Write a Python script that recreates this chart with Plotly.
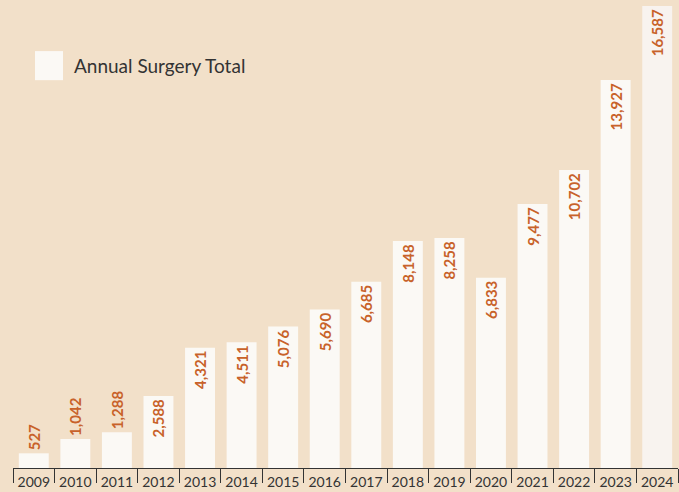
import plotly.graph_objects as go

years = ["2009", "2010", "2011", "2012", "2013", "2014", "2015", "2016",
         "2017", "2018", "2019", "2020", "2021", "2022", "2023", "2024"]
surgeries = [527, 1042, 1288, 2588, 4321, 4511, 5076, 5690,
             6685, 8148, 8258, 6833, 9477, 10702, 13927, 16587]
series_name = "Annual Surgery Total"

BG = "#F2E0C9"
BAR = "#FBF9F5"
BAR_LAST = "#F8F3EF"
LABEL = "#C8622A"
INK = "#333333"
FONT = "Lato, 'Source Sans Pro', 'Open Sans', sans-serif"

colors = [BAR] * (len(years) - 1) + [BAR_LAST]
labels = [f"{v:,}" for v in surgeries]
positions = ["outside" if v < 2000 else "inside" for v in surgeries]

fig = go.Figure(go.Bar(
    x=years, y=surgeries, name=series_name,
    marker=dict(color=colors, line=dict(width=0)),
    text=labels, textposition=positions, textangle=-90,
    insidetextanchor="end", constraintext="none", cliponaxis=False,
    insidetextfont=dict(color=LABEL, size=15, family=FONT, weight="bold"),
    outsidetextfont=dict(color=LABEL, size=15, family=FONT, weight="bold"),
    hoverinfo="skip", showlegend=False,
))

fig.update_layout(
    width=679, height=492,
    margin=dict(l=13, r=1, t=6, b=24),
    paper_bgcolor=BG, plot_bgcolor=BG,
    bargap=0.28,
    font=dict(family=FONT, color=INK),
    xaxis=dict(
        type="category", showgrid=False, zeroline=False,
        showline=True, linecolor=INK, linewidth=1,
        ticks="outside", tickson="boundaries", ticklen=14, tickcolor=INK,
        ticklabelstandoff=1,
        tickfont=dict(size=14, color=INK, family=FONT),
    ),
    yaxis=dict(range=[0, max(surgeries)], visible=False, fixedrange=True),
    shapes=[dict(type="rect", xref="paper", yref="paper",
                 x0=(35 - 13) / 665, x1=(63 - 13) / 665,
                 y0=(467 - 80) / 461, y1=(467 - 51) / 461,
                 fillcolor=BAR, line=dict(width=0), layer="above")],
    annotations=[dict(text=series_name, xref="paper", yref="paper",
                      x=(72 - 13) / 665, y=(467 - 65) / 461,
                      xanchor="left", yanchor="middle", showarrow=False,
                      font=dict(size=19, color=INK, family=FONT))],
)

fig.write_html("out.html",
               config={"displayModeBar": False},
               post_script="document.body.style.margin='0';document.body.style.padding='0';")
